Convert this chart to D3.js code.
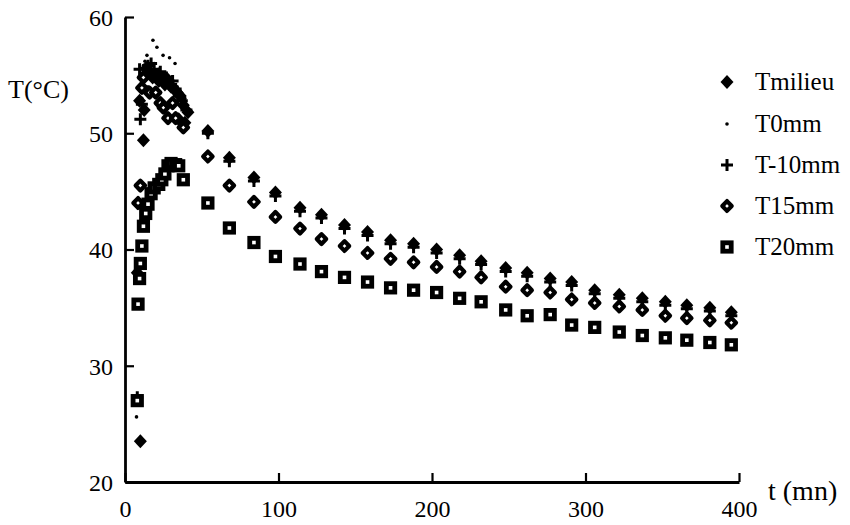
<!DOCTYPE html>
<html>
<head>
<meta charset="utf-8">
<script src="https://cdn.jsdelivr.net/npm/d3@7"></script>
<style>
  html, body { margin: 0; padding: 0; background: #fff; }
  svg { display: block; }
  text { font-family: "Liberation Serif", "Times New Roman", serif; fill: #000; }
</style>
</head>
<body>
<svg id="chart" width="850" height="525"></svg>
<script>
// ---------- data ----------
const xTicks = [0, 100, 200, 300, 400];
const yTicks = [20, 30, 40, 50, 60];
const xLabel = "t (mn)";
const yLabel = "T(°C)";
const seriesNames = ["Tmilieu", "T0mm", "T-10mm", "T15mm", "T20mm"];

const lateTimes = [54, 68, 84, 98, 114, 128, 143, 158, 173, 188, 203, 218, 232, 248, 262, 277, 291, 306, 322, 337, 352, 366, 381, 395];

const milieuEarlyTimes = [8, 9.5, 10, 12, 12.5, 13, 14, 16, 18, 20, 22, 24, 26, 28, 30, 32, 34, 35, 36, 38, 39, 41];
const milieuEarly = [38.0, 52.8, 23.5, 49.4, 52.0, 55.0, 55.6, 55.2, 54.8, 55.0, 54.5, 54.8, 54.2, 54.6, 54.0, 53.8, 53.5, 51.2, 53.2, 52.4, 50.9, 51.8];
const milieuLate = [50.2, 47.9, 46.2, 44.9, 43.6, 43.0, 42.1, 41.5, 40.8, 40.5, 40.0, 39.5, 39.0, 38.4, 38.0, 37.5, 37.2, 36.5, 36.1, 35.8, 35.5, 35.2, 35.0, 34.6];

const t0EarlyTimes = [7.5, 11, 12, 13, 14.3, 16, 18.2, 19, 20.8, 22, 24.8, 26, 29, 30, 32.6, 34, 36, 39];
const t0Early = [25.6, 53.0, 55.8, 56.2, 56.7, 55.5, 58.0, 56.0, 57.4, 55.5, 56.7, 55.2, 56.5, 54.8, 56.0, 54.0, 53.6, 53.0];
const t0Late = [50.1, 47.8, 46.1, 44.8, 43.5, 42.9, 42.0, 41.4, 40.7, 40.4, 39.9, 39.4, 38.9, 38.3, 37.9, 37.4, 37.1, 36.4, 36.0, 35.7, 35.4, 35.1, 34.9, 34.5];

const tm10EarlyTimes = [8, 9.5, 10, 11, 12, 13, 15, 17, 19, 21, 23, 25, 27, 29, 31, 33, 35, 37, 40];
const tm10Early = [27.3, 55.5, 51.2, 52.5, 54.0, 55.5, 55.8, 56.0, 55.5, 55.0, 55.3, 54.6, 54.8, 54.2, 54.5, 53.8, 53.2, 52.8, 52.0];
const tm10Late = [50.0, 47.6, 45.9, 44.6, 43.3, 42.7, 41.8, 41.2, 40.5, 40.2, 39.7, 39.2, 38.7, 38.1, 37.7, 37.2, 36.9, 36.2, 35.8, 35.5, 35.2, 34.9, 34.7, 34.3];

const t15EarlyTimes = [8.5, 10, 11, 12, 16, 20, 23, 25, 28, 31, 33, 38];
const t15Early = [44.0, 45.5, 53.9, 54.8, 53.5, 53.5, 52.6, 52.2, 51.3, 52.6, 51.3, 50.5];
const t15Late = [48.0, 45.5, 44.1, 42.8, 41.8, 40.9, 40.3, 39.7, 39.2, 38.9, 38.5, 38.1, 37.6, 36.8, 36.5, 36.3, 35.7, 35.4, 35.1, 34.8, 34.3, 34.1, 33.9, 33.7];

const t20EarlyTimes = [8, 8.5, 9.5, 10, 11, 12, 13.5, 15, 17, 19, 22, 24, 26, 28, 30, 33, 35, 38];
const t20Early = [27.0, 35.3, 37.5, 38.8, 40.3, 42.0, 43.1, 43.9, 44.8, 45.3, 45.6, 46.0, 46.5, 47.2, 47.4, 47.3, 47.2, 46.0];
const t20Late = [44.0, 41.85, 40.6, 39.4, 38.75, 38.1, 37.6, 37.2, 36.7, 36.5, 36.3, 35.8, 35.5, 34.8, 34.3, 34.4, 33.5, 33.3, 32.9, 32.6, 32.4, 32.2, 32.0, 31.8];

// ---------- build ----------
function pts(et, ev, lt, lv) {
  return et.map((t, i) => ({t, v: ev[i]})).concat(lt.map((t, i) => ({t, v: lv[i]})));
}
const dMilieu = pts(milieuEarlyTimes, milieuEarly, lateTimes, milieuLate);
const dT0 = pts(t0EarlyTimes, t0Early, lateTimes, t0Late);
const dTm10 = pts(tm10EarlyTimes, tm10Early, lateTimes, tm10Late);
const dT15 = pts(t15EarlyTimes, t15Early, lateTimes, t15Late);
const dT20 = pts(t20EarlyTimes, t20Early, lateTimes, t20Late);

const svg = d3.select("#chart");
const x = d3.scaleLinear().domain([0, 400]).range([125, 739]);
const y = d3.scaleLinear().domain([20, 60]).range([482, 17]);

// symbol shapes
const diamondFilled = "M0,-7L6.5,0L0,7L-6.5,0Z";
const diamondHollow = "M0,-4.9L4.7,0L0,4.9L-4.7,0Z";
const plusPath = "M-6,0H6M0,-6V6";

const symbols = {
  "Tmilieu": g => g.append("path").attr("d", diamondFilled).attr("fill", "#000"),
  "T0mm": g => g.append("circle").attr("r", 1.8).attr("fill", "#000"),
  "T-10mm": g => g.append("path").attr("d", plusPath).attr("stroke", "#000").attr("stroke-width", 3).attr("fill", "none"),
  "T15mm": g => g.append("path").attr("d", diamondHollow).attr("fill", "#fff").attr("stroke", "#000").attr("stroke-width", 4.2).attr("stroke-linejoin", "round"),
  "T20mm": g => g.append("rect").attr("x", -4.2).attr("y", -4.2).attr("width", 8.4).attr("height", 8.4).attr("fill", "#fff").attr("stroke", "#000").attr("stroke-width", 4.8)
};

function drawSeries(data, name) {
  const g = svg.append("g").attr("class", "series-" + name);
  g.selectAll("g.pt").data(data).join("g")
    .attr("class", "pt")
    .attr("transform", d => `translate(${x(d.t)},${y(d.v)})`)
    .each(function () { symbols[name](d3.select(this)); });
}

drawSeries(dMilieu, "Tmilieu");
drawSeries(dTm10, "T-10mm");
drawSeries(dT0, "T0mm");
drawSeries(dT15, "T15mm");
drawSeries(dT20, "T20mm");

// ---------- axes ----------
const xAxis = svg.append("g").attr("transform", `translate(0,${y(20)})`)
  .call(d3.axisBottom(x).tickValues(xTicks).tickSizeInner(-9).tickSizeOuter(0).tickFormat(d3.format("d")));
xAxis.attr("font-family", "Liberation Serif");
xAxis.select(".domain").attr("stroke-width", 2.8);
xAxis.selectAll(".tick line").attr("stroke-width", 2.2);
xAxis.selectAll(".tick text").attr("y", 35).attr("dy", 0).attr("font-size", 24)
  .style("font-family", "Liberation Serif");

const yAxis = svg.append("g").attr("transform", `translate(${x(0)},0)`)
  .call(d3.axisLeft(y).tickValues(yTicks).tickSizeInner(-9).tickSizeOuter(0).tickFormat(d3.format("d")));
yAxis.attr("font-family", "Liberation Serif");
yAxis.select(".domain").attr("stroke-width", 2.8);
yAxis.selectAll(".tick line").attr("stroke-width", 2.2);
yAxis.selectAll(".tick text").attr("x", -12).attr("dy", "0.35em").attr("font-size", 24)
  .style("font-family", "Liberation Serif");

// axis titles
svg.append("text").attr("x", 8).attr("y", 98).attr("font-size", 26).text(yLabel);
svg.append("text").attr("x", 768).attr("y", 500).attr("font-size", 28).text(xLabel);

// ---------- legend ----------
const legendY = [90, 132, 173, 214, 255];
const legend = svg.append("g");
seriesNames.forEach((name, i) => {
  const g = legend.append("g").attr("transform", `translate(727,${legendY[i] - 8})`);
  symbols[name](g);
  legend.append("text").attr("x", 755).attr("y", legendY[i]).attr("font-size", 25).text(name);
});
</script>
</body>
</html>
